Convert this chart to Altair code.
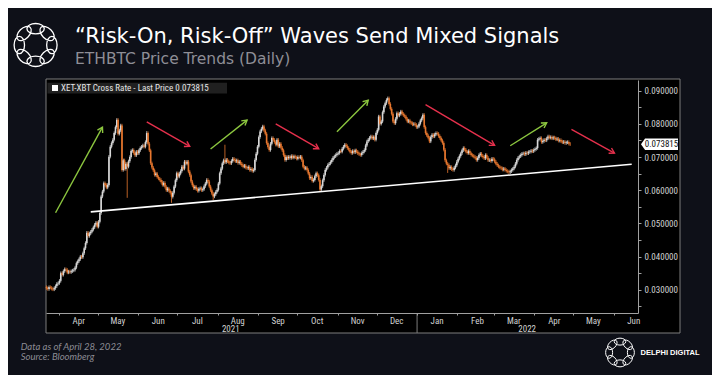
import math
import altair as alt
import pandas as pd

# ---------------- data: daily ETHBTC closes ----------------
mar21 = [0.0305, 0.0302, 0.0308, 0.0306, 0.0303, 0.0301, 0.0305, 0.0311, 0.0318, 0.0320]
apr21 = [0.0327, 0.0350, 0.0345, 0.0356, 0.0362, 0.0360, 0.0352, 0.0355, 0.0353, 0.0356,
         0.0358, 0.0360, 0.0367, 0.0380, 0.0386, 0.0392, 0.0400, 0.0398, 0.0410, 0.0425,
         0.0441, 0.0472, 0.0462, 0.0470, 0.0475, 0.0481, 0.0488, 0.0496, 0.0502, 0.0490]
may21 = [0.0505, 0.0531, 0.0581, 0.0596, 0.0621, 0.0616, 0.0608, 0.0616, 0.0701, 0.0731,
         0.0742, 0.0752, 0.0772, 0.0790, 0.0812, 0.0770, 0.0780, 0.0795, 0.0661, 0.0690,
         0.0664, 0.0680, 0.0671, 0.0687, 0.0700, 0.0718, 0.0721, 0.0712, 0.0705, 0.0716, 0.0711]
jun21 = [0.0720, 0.0727, 0.0731, 0.0735, 0.0731, 0.0745, 0.0772, 0.0740, 0.0720, 0.0681,
         0.0668, 0.0660, 0.0646, 0.0650, 0.0640, 0.0635, 0.0631, 0.0625, 0.0616, 0.0622,
         0.0610, 0.0600, 0.0605, 0.0598, 0.0592, 0.0580, 0.0592, 0.0611, 0.0630, 0.0651]
jul21 = [0.0641, 0.0650, 0.0658, 0.0671, 0.0665, 0.0686, 0.0680, 0.0686, 0.0656, 0.0645,
         0.0626, 0.0615, 0.0606, 0.0610, 0.0603, 0.0598, 0.0604, 0.0606, 0.0600, 0.0603,
         0.0612, 0.0620, 0.0631, 0.0626, 0.0611, 0.0600, 0.0590, 0.0581, 0.0588, 0.0595, 0.0601]
aug21 = [0.0620, 0.0651, 0.0665, 0.0681, 0.0690, 0.0684, 0.0692, 0.0687, 0.0683, 0.0681,
         0.0688, 0.0695, 0.0691, 0.0687, 0.0690, 0.0682, 0.0686, 0.0680, 0.0675, 0.0671,
         0.0674, 0.0668, 0.0666, 0.0670, 0.0661, 0.0664, 0.0658, 0.0661, 0.0691, 0.0710, 0.0731]
sep21 = [0.0760, 0.0777, 0.0785, 0.0792, 0.0780, 0.0770, 0.0742, 0.0730, 0.0721, 0.0740,
         0.0757, 0.0752, 0.0745, 0.0737, 0.0752, 0.0732, 0.0740, 0.0728, 0.0720, 0.0706,
         0.0691, 0.0700, 0.0696, 0.0701, 0.0697, 0.0703, 0.0698, 0.0702, 0.0699, 0.0695]
oct21 = [0.0700, 0.0698, 0.0701, 0.0690, 0.0671, 0.0665, 0.0668, 0.0661, 0.0650, 0.0636,
         0.0640, 0.0628, 0.0631, 0.0642, 0.0651, 0.0645, 0.0631, 0.0602, 0.0612, 0.0630,
         0.0646, 0.0661, 0.0668, 0.0676, 0.0680, 0.0685, 0.0691, 0.0698, 0.0702, 0.0706, 0.0710]
nov21 = [0.0712, 0.0718, 0.0716, 0.0725, 0.0731, 0.0737, 0.0733, 0.0727, 0.0722, 0.0716,
         0.0712, 0.0718, 0.0714, 0.0720, 0.0716, 0.0711, 0.0708, 0.0706, 0.0712, 0.0716,
         0.0721, 0.0735, 0.0747, 0.0752, 0.0758, 0.0762, 0.0756, 0.0760, 0.0752, 0.0772]
dec21 = [0.0782, 0.0822, 0.0800, 0.0807, 0.0835, 0.0852, 0.0862, 0.0872, 0.0877, 0.0860,
         0.0845, 0.0830, 0.0807, 0.0802, 0.0815, 0.0832, 0.0825, 0.0830, 0.0837, 0.0830,
         0.0826, 0.0822, 0.0815, 0.0807, 0.0810, 0.0804, 0.0802, 0.0798, 0.0800, 0.0797, 0.0790]
jan22 = [0.0792, 0.0800, 0.0810, 0.0817, 0.0827, 0.0790, 0.0772, 0.0765, 0.0758, 0.0747,
         0.0760, 0.0767, 0.0762, 0.0768, 0.0772, 0.0770, 0.0763, 0.0757, 0.0750, 0.0742,
         0.0722, 0.0690, 0.0680, 0.0676, 0.0666, 0.0670, 0.0663, 0.0661, 0.0668, 0.0675, 0.0686]
feb22 = [0.0695, 0.0703, 0.0711, 0.0720, 0.0727, 0.0722, 0.0716, 0.0712, 0.0718, 0.0711,
         0.0706, 0.0704, 0.0701, 0.0698, 0.0691, 0.0697, 0.0706, 0.0710, 0.0704, 0.0700,
         0.0696, 0.0706, 0.0698, 0.0690, 0.0691, 0.0688, 0.0695, 0.0693]
mar22 = [0.0686, 0.0680, 0.0675, 0.0671, 0.0668, 0.0666, 0.0662, 0.0665, 0.0661, 0.0658,
         0.0656, 0.0654, 0.0657, 0.0661, 0.0665, 0.0671, 0.0680, 0.0691, 0.0698, 0.0702,
         0.0706, 0.0710, 0.0711, 0.0708, 0.0713, 0.0711, 0.0715, 0.0716, 0.0719, 0.0717, 0.0721]
apr22 = [0.0724, 0.0727, 0.0752, 0.0755, 0.0757, 0.0745, 0.0748, 0.0752, 0.0750, 0.0756,
         0.0762, 0.0758, 0.0760, 0.0756, 0.0759, 0.0757, 0.0753, 0.0755, 0.0749, 0.0751,
         0.0747, 0.0744, 0.0746, 0.0742, 0.0744, 0.0745, 0.0740, 0.073815]

month_starts = ["2021-03-22", "2021-04-01", "2021-05-01", "2021-06-01", "2021-07-01",
                "2021-08-01", "2021-09-01", "2021-10-01", "2021-11-01", "2021-12-01",
                "2022-01-01", "2022-02-01", "2022-03-01", "2022-04-01"]
month_closes = [mar21, apr21, may21, jun21, jul21, aug21, sep21, oct21, nov21, dec21,
                jan22, feb22, mar22, apr22]
first_open = 0.0308
wick = 0.0005
# notable wicks (high, low)
wick_overrides = {
    "2021-05-15": (0.0817, None), "2021-05-23": (None, 0.0577),
    "2021-06-07": (0.0778, None), "2021-06-26": (None, 0.0562),
    "2021-07-28": (None, 0.0570), "2021-08-06": (0.0737, None),
    "2021-09-04": (0.0797, None), "2021-10-18": (None, 0.0597),
    "2021-12-09": (0.0882, None), "2022-01-24": (None, 0.0652),
    "2022-03-12": (None, 0.0647),
}

support_start = ("2021-04-25T12:00:00Z", 0.05346)
support_end = ("2022-06-14T18:00:00Z", 0.0678)

arrow_start_dates = ["2021-03-29", "2021-06-07", "2021-07-26", "2021-09-14",
                     "2021-10-31", "2022-01-07", "2022-03-13", "2022-04-29"]
arrow_start_vals = [0.0532, 0.0806, 0.0724, 0.0800, 0.0776, 0.0858, 0.0734, 0.0783]
arrow_end_dates = ["2021-05-04", "2021-07-10", "2021-08-23", "2021-10-17",
                   "2021-11-24", "2022-03-01", "2022-04-10", "2022-06-01"]
arrow_end_vals = [0.0790, 0.0732, 0.0811, 0.0725, 0.0871, 0.0735, 0.0803, 0.0712]
arrow_kind = ["up", "down", "up", "down", "up", "down", "up", "down"]

last_price = 0.073815
y_ticks = [0.025, 0.030, 0.035, 0.040, 0.045, 0.050, 0.055, 0.060, 0.065,
           0.070, 0.075, 0.080, 0.085, 0.090]
x_tick_months = [(2021, m) for m in range(4, 13)] + [(2022, m) for m in range(1, 7)]
year_labels = ["2021", "2022"]
year_label_dates = ["2021-08-11T00:00:00Z", "2022-03-26T12:00:00Z"]

# ---------------- build tables ----------------
rows = []
prev = first_open
for start, closes in zip(month_starts, month_closes):
    days = pd.date_range(start, periods=len(closes), freq="D")
    for d, c in zip(days, closes):
        key = d.strftime("%Y-%m-%d")
        o = prev
        hi = max(o, c) + wick
        lo = min(o, c) - wick
        if key in wick_overrides:
            h2, l2 = wick_overrides[key]
            if h2 is not None:
                hi = h2
            if l2 is not None:
                lo = l2
        rows.append({"date": key + "T12:00:00Z", "o": o, "c": c, "hi": hi, "lo": lo,
                     "dir": "up" if c >= o else "down"})
        prev = c
candles = pd.DataFrame(rows)

W, H = 592, 233
YMIN, YMAX = 0.0230, 0.0932
T0 = pd.Timestamp("2021-03-22 04:00")
T1 = pd.Timestamp("2022-06-19 14:00")

UP, DOWN = "#d8d8d8", "#e8772e"
GREEN, RED = "#8cc63f", "#e5304c"
AXIS_GREY = "#a0a0a0"
FRAME_GREY = "#7c7c7c"
LABEL = "#d2d2d2"
NARROW = "Liberation Sans Narrow, Arial Narrow, Roboto Condensed, DejaVu Sans Condensed, Liberation Sans, sans-serif"

xscale = alt.Scale(type="utc", domain=[
    alt.DateTime(year=2021, month=3, date=22, hours=4, utc=True),
    alt.DateTime(year=2022, month=6, date=19, hours=14, utc=True)])
yscale = alt.Scale(domain=[YMIN, YMAX], zero=False, nice=False)


def px(datestr):
    t = pd.Timestamp(datestr.replace("Z", ""))
    return (t - T0) / (T1 - T0) * W


def py(v):
    return (YMAX - v) / (YMAX - YMIN) * H


arr = []
for sd, sv, ed, ev, k in zip(arrow_start_dates, arrow_start_vals, arrow_end_dates,
                             arrow_end_vals, arrow_kind):
    s = sd + "T12:00:00Z"
    e = ed + "T12:00:00Z"
    ang = math.degrees(math.atan2(py(ev) - py(sv), px(e) - px(s))) % 360
    arr.append({"d1": s, "v1": sv, "d2": e, "v2": ev, "ang": ang,
                "col": GREEN if k == "up" else RED})
arrows = pd.DataFrame(arr)

one = pd.DataFrame({"a": [0]})

x_axis = alt.Axis(
    values=[alt.DateTime(year=y, month=m, date=1, utc=True) for y, m in x_tick_months],
    labelExpr="utcFormat(datum.value, '%b')", labelOffset=19.5, labelFlush=False,
    labelOverlap=False, tickSize=2, labelPadding=1, domainColor=AXIS_GREY,
    tickColor=AXIS_GREY, labelColor=LABEL, labelFont=NARROW, labelFontSize=9,
    grid=False, title=None, zindex=1)
y_axis = alt.Axis(
    orient="right", values=y_ticks,
    labelExpr="round(datum.value*1000) % 10 == 0 ? format(datum.value, '.6f') : ''",
    tickSize=3, labelPadding=3, domainColor=AXIS_GREY, tickColor=AXIS_GREY,
    labelColor=LABEL, labelFont=NARROW, labelFontSize=9, grid=False, title=None,
    zindex=1)


def X(field):
    return alt.X(field, type="temporal", scale=xscale, axis=x_axis)


def Y(field):
    return alt.Y(field, type="quantitative", scale=yscale, axis=y_axis)


def label(text, x, y, **kw):
    return alt.Chart(one).mark_text(text=text, **kw).encode(x=alt.value(x), y=alt.value(y))


def logo_path(R=0.75, a=0.40, b=0.24):
    parts = []
    for i in range(8):
        phi = math.radians(i * 45)
        cx, cy = R * math.cos(phi), R * math.sin(phi)
        tx, ty = -math.sin(phi), math.cos(phi)
        x1, y1 = cx - a * tx, cy - a * ty
        x2, y2 = cx + a * tx, cy + a * ty
        rot = math.degrees(phi) + 90
        parts.append(f"M {x1:.3f} {y1:.3f} A {a} {b} {rot:.1f} 0 1 {x2:.3f} {y2:.3f} "
                     f"A {a} {b} {rot:.1f} 0 1 {x1:.3f} {y1:.3f} Z")
    return " ".join(parts)


LOGO = logo_path()
CHEVRON = "M -1 -0.6 L 0 0 L -1 0.6"
TAG = "M -1 0 L -0.78 -0.31 L 1 -0.31 L 1 0.31 L -0.78 0.31 Z"

# ---------------- layers ----------------
frame = alt.Chart(one).mark_rect(fill="#000000", stroke=FRAME_GREY, strokeWidth=1).encode(
    x=alt.value(0), x2=alt.value(634), y=alt.value(-1), y2=alt.value(H + 20))

cscale = alt.Scale(domain=["up", "down"], range=[UP, DOWN])
wicks = alt.Chart(candles).mark_rule(strokeWidth=0.8).encode(
    x=X("date"), y=Y("lo"), y2="hi:Q",
    color=alt.Color("dir:N", scale=cscale, legend=None))
bodies = alt.Chart(candles).mark_rule(strokeWidth=1.6).encode(
    x=X("date"), y=Y("o"), y2="c:Q",
    color=alt.Color("dir:N", scale=cscale, legend=None))

sep = alt.Chart(pd.DataFrame({"d": ["2022-01-01T00:00:00Z"]})).mark_rule(
    color=FRAME_GREY, strokeWidth=1).encode(x=X("d"), y=alt.value(H), y2=alt.value(H + 20))

years = alt.Chart(pd.DataFrame({"d": year_label_dates, "t": year_labels})).mark_text(
    font=NARROW, fontSize=9, color=LABEL, baseline="middle").encode(
    x=X("d"), y=alt.value(H + 16), text="t:N")

legend_box = alt.Chart(one).mark_rect(fill="#202020").encode(
    x=alt.value(1.5), x2=alt.value(181), y=alt.value(2.7), y2=alt.value(13.5))
legend_sq = alt.Chart(one).mark_rect(fill="#ffffff").encode(
    x=alt.value(6), x2=alt.value(12), y=alt.value(5), y2=alt.value(11))
legend_txt = label("XET-XBT Cross Rate - Last Price 0.073815", 15, 8.3, font=NARROW,
                   fontSize=9, color="#e6e6e6", align="left", baseline="middle")

support = alt.Chart(pd.DataFrame({"d1": [support_start[0]], "v1": [support_start[1]],
                                  "d2": [support_end[0]], "v2": [support_end[1]]})).mark_rule(
    color="#ffffff", strokeWidth=1.6).encode(x=X("d1"), x2="d2:T", y=Y("v1"), y2="v2:Q")

arrow_lines = alt.Chart(arrows).mark_rule(strokeWidth=1.4).encode(
    x=X("d1"), x2="d2:T", y=Y("v1"), y2="v2:Q", color=alt.Color("col:N", scale=None))
arrow_heads = alt.Chart(arrows).mark_point(shape=CHEVRON, filled=False, size=100,
                                           strokeWidth=1.4, opacity=1).encode(
    x=X("d2"), y=Y("v2"), angle=alt.Angle("ang:Q", scale=None),
    color=alt.Color("col:N", scale=None))

tag_df = pd.DataFrame({"v": [last_price], "t": [f"{last_price:.6f}"]})
tag = alt.Chart(tag_df).mark_point(shape=TAG, filled=True, fill="#ffffff", size=1369,
                                   opacity=1, strokeWidth=0).encode(
    x=alt.value(613.5), y=Y("v"))
tag_txt = alt.Chart(tag_df).mark_text(font=NARROW, fontSize=9, color="#111111",
                                      baseline="middle", align="center").encode(
    x=alt.value(615.5), y=Y("v"), text="t:N")

title = label("\u201cRisk-On, Risk-Off\u201d Waves Send Mixed Signals", 29, -36.7,
              font="DejaVu Sans", fontSize=21, color="#ffffff", align="left",
              baseline="alphabetic")
subtitle = label("ETHBTC Price Trends (Daily)", 29, -16, font="DejaVu Sans", fontSize=15.5,
                 color="#8e8e96", align="left", baseline="alphabetic")
foot1 = label("Data as of April 28, 2022", -25.3, 266.7, font="Lato", fontSize=9.5,
              fontStyle="italic", color="#8c8c94", align="left", baseline="middle")
foot2 = label("Source: Bloomberg", -25.3, 277.3, font="Lato", fontSize=9.5,
              fontStyle="italic", color="#8c8c94", align="left", baseline="middle")
brand = label("DELPHI DIGITAL", 594.5, 272.7, font="Liberation Sans", fontSize=7.5,
              fontWeight="bold", color="#ffffff", align="left", baseline="middle")
logo_top = alt.Chart(one).mark_point(shape=LOGO, filled=False, size=43.4 ** 2,
                                     stroke="#ffffff", strokeWidth=1.3, opacity=1).encode(
    x=alt.value(-10.4), y=alt.value(-35))
logo_bot = alt.Chart(one).mark_point(shape=LOGO, filled=False, size=29 ** 2,
                                     stroke="#ffffff", strokeWidth=1.0, opacity=1).encode(
    x=alt.value(574), y=alt.value(272.5))

chart = alt.layer(
    frame, wicks, bodies, sep, years, support, arrow_lines, arrow_heads,
    legend_box, legend_sq, legend_txt, tag, tag_txt,
    title, subtitle, foot1, foot2, brand, logo_top, logo_bot,
).properties(
    width=W, height=H,
    padding={"left": 38, "top": 72, "right": 74, "bottom": 62},
    autosize=alt.AutoSizeParams(type="none"),
    background="#0e1018",
).configure_view(stroke=None)

chart.save("out.html", embed_options={"renderer": "svg", "actions": False})
